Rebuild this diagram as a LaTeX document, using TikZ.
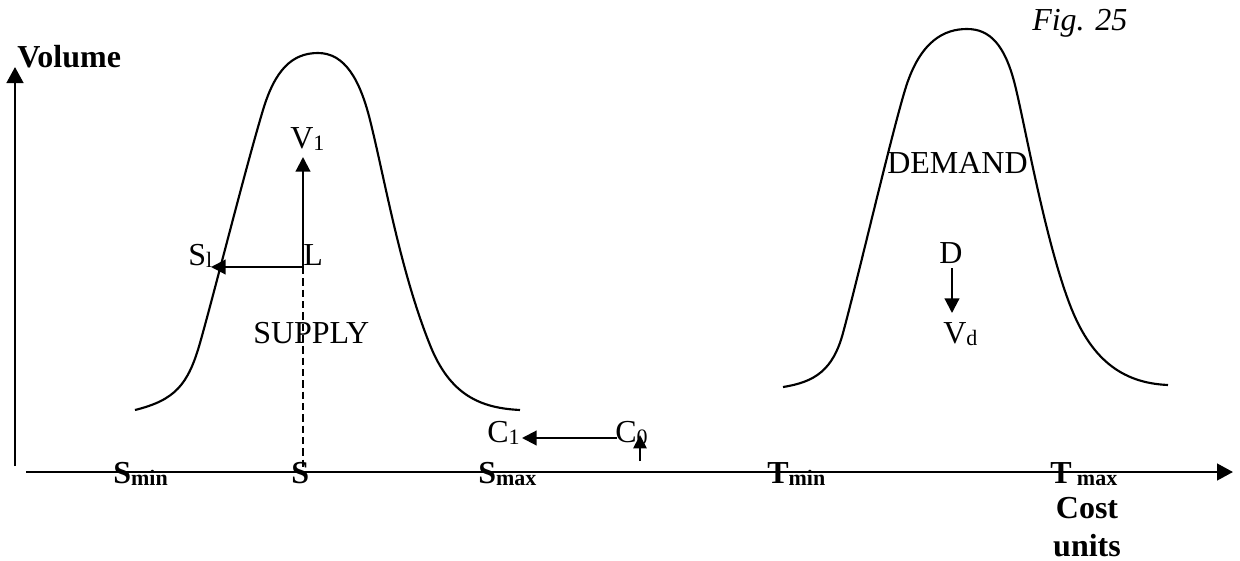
\documentclass[tikz,border=0pt]{standalone}
\usepackage{fontspec}
\setmainfont{Liberation Serif}
\usetikzlibrary{arrows.meta}
\newcommand{\subtxt}[1]{\raisebox{-2.2pt}{\fontsize{16.5}{18}\selectfont #1}}
\begin{document}
\begin{tikzpicture}[x=0.75pt,y=-0.75pt,
  lbl/.style={anchor=base west,inner sep=0pt,font=\fontsize{24}{26}\selectfont},
  axis/.style={line width=1.9pt,-{Triangle[length=12pt,width=12.5pt]}},
  arr/.style={line width=1.6pt,-{Triangle[length=11pt,width=11pt]}},
  curve/.style={line width=1.6pt},
  dash line/.style={line width=1.4pt,dash pattern=on 5.5pt off 3pt}]
\useasboundingbox (0,0) rectangle (1240,561);
% axes
\coordinate (ybot) at (15,466);
\coordinate (ytop) at (15,67);
\coordinate (xleft) at (26,472);
\coordinate (xright) at (1233,472);
\draw[axis] (ybot) -- (ytop);
\draw[axis] (xleft) -- (xright);
% supply curve
\draw[curve] (135,410) .. controls (175,400) and (188,385) .. (200,343)
  .. controls (215,290) and (245,170) .. (263,110)
  .. controls (275,70) and (292,53) .. (318,53)
  .. controls (345,53) and (360,80) .. (370,120)
  .. controls (385,180) and (400,270) .. (430,345)
  .. controls (450,395) and (480,408) .. (520,410);
% demand curve
\draw[curve] (783,387) .. controls (815,382) and (833,370) .. (843,333)
  .. controls (860,270) and (890,140) .. (905,90)
  .. controls (920,40) and (945,29) .. (967,29)
  .. controls (990,29) and (1005,45) .. (1015,85)
  .. controls (1025,125) and (1045,240) .. (1070,305)
  .. controls (1090,357) and (1120,383) .. (1168,385);
% texts
\node[lbl] (vol) at (17,67) {\textbf{Volume}};
\node[lbl] (fig) at (1032,30) {\textit{Fig. 25}};
\node[lbl] (supply) at (253,343) {SUPPLY};
\node[lbl] (demand) at (887,173) {DEMAND};
\node[lbl] (V1) at (290,148) {V\subtxt{1}};
\node[lbl] (S1) at (188,265) {S\subtxt{l}};
\node[lbl] (L) at (303,265) {L};
\node[lbl] (D) at (939,263) {D};
\node[lbl] (Vd) at (943,343) {V\subtxt{d}};
\node[lbl] (C1) at (487,442) {C\subtxt{1}};
\node[lbl] (C0) at (615,442) {C\subtxt{0}};
\node[lbl] (Smin) at (113,483) {\textbf{S\subtxt{min}}};
\node[lbl] (S) at (291,483) {\textbf{S}};
\node[lbl] (Smax) at (478,483) {\textbf{S\subtxt{max}}};
\node[lbl] (Tmin) at (767,483) {\textbf{T\subtxt{min}}};
\node[lbl] (Tmax) at (1050,483) {\textbf{T\,\subtxt{max}}};
\node[lbl,anchor=base] (cost) at (1087,518) {\textbf{Cost}};
\node[lbl,anchor=base] (units) at (1087,556) {\textbf{units}};
% arrows
\coordinate (Lpt) at (303,267);
\coordinate (V1tip) at (303,157);
\coordinate (S1tip) at (211,267);
\coordinate (Sbase) at (303,472);
\coordinate (Dstart) at (952,268);
\coordinate (Dtip) at (952,313);
\coordinate (C0pt) at (617,438);
\coordinate (C1tip) at (522,438);
\coordinate (C0low) at (640,461);
\coordinate (C0up) at (640,435);
\draw[arr] (Lpt) -- (V1tip);
\draw[arr] (Lpt) -- (S1tip);
\draw[dash line] (Lpt) -- (Sbase);
\draw[arr] (Dstart) -- (Dtip);
\draw[arr] (C0pt) -- (C1tip);
\draw[line width=1.4pt,-{Triangle[length=10pt,width=10pt]}] (C0low) -- (C0up);
\end{tikzpicture}
\end{document}
